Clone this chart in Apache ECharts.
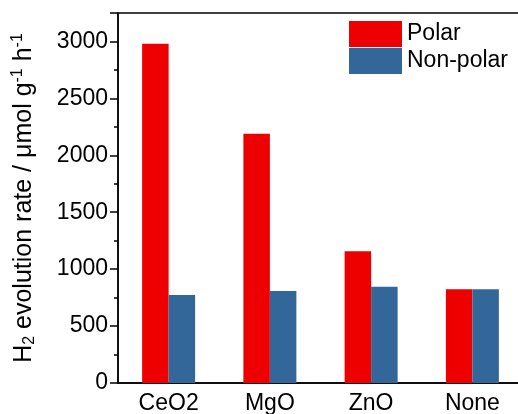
<!DOCTYPE html>
<html>
<head>
<meta charset="utf-8">
<script src="https://cdn.jsdelivr.net/npm/echarts@6/dist/echarts.min.js"></script>
<style>
  html, body { margin: 0; padding: 0; background: #fff; }
  #chart { width: 518px; height: 414px; }
</style>
</head>
<body>
<div id="chart"></div>
<script>
const categories = ['CeO2', 'MgO', 'ZnO', 'None']
const polar = [2980, 2190, 1158, 824]
const nonPolar = [773, 808, 846, 824]

const font = 'Liberation Sans, Arial, sans-serif'
const chart = echarts.init(document.getElementById('chart'))

chart.setOption({
  animation: false,
  textStyle: { fontFamily: font },
  grid: {
    left: 118, right: -5, top: 13, bottom: 31,
    outerBoundsMode: 'none',
    show: true, borderColor: '#000', borderWidth: 1.5
  },
  legend: {
    data: ['Polar', 'Non-polar'],
    orient: 'vertical',
    left: 349, top: 21, padding: 0,
    itemWidth: 53, itemHeight: 26, itemGap: 1,
    icon: 'rect',
    textStyle: { fontSize: 23, color: '#000', fontFamily: font }
  },
  xAxis: {
    type: 'category',
    data: categories,
    axisLine: { lineStyle: { color: '#000', width: 1.5 } },
    axisTick: { inside: true, alignWithLabel: true, length: 5, lineStyle: { color: '#000', width: 1.5 } },
    axisLabel: { fontSize: 23, color: '#000', margin: 9, fontFamily: font }
  },
  yAxis: {
    type: 'value',
    min: 0, max: 3250, interval: 500,
    name: '{n|H}{s|2}{n| evolution rate / μmol g}{p|-1}{n| h}{p|-1}',
    nameLocation: 'middle',
    nameRotate: 90,
    nameGap: 80,
    nameTextStyle: {
      rich: {
        n: { fontSize: 25, color: '#000', fontFamily: font },
        s: { fontSize: 16, color: '#000', fontFamily: font, verticalAlign: 'bottom', padding: [12, 0, 0, 0] },
        p: { fontSize: 16, color: '#000', fontFamily: font, verticalAlign: 'top', padding: [0, 0, 12, 0] }
      }
    },
    splitLine: { show: false },
    axisLine: { show: true, lineStyle: { color: '#000', width: 1.5 } },
    axisTick: { show: true, length: 8, lineStyle: { color: '#000', width: 1.5 } },
    minorTick: { show: true, splitNumber: 2, length: 4, lineStyle: { color: '#000', width: 1.5 } },
    axisLabel: {
      fontSize: 23, color: '#000', margin: 10, fontFamily: font,
      showMaxLabel: false,
      formatter: v => (v % 500 === 0 ? String(v) : '')
    }
  },
  series: [
    {
      name: 'Polar', type: 'bar', data: polar,
      barWidth: 26.5, barGap: '0%',
      itemStyle: { color: '#ee0000' }
    },
    {
      name: 'Non-polar', type: 'bar', data: nonPolar,
      barWidth: 26.5, barGap: '0%',
      itemStyle: { color: '#336699' }
    }
  ]
})
</script>
</body>
</html>
